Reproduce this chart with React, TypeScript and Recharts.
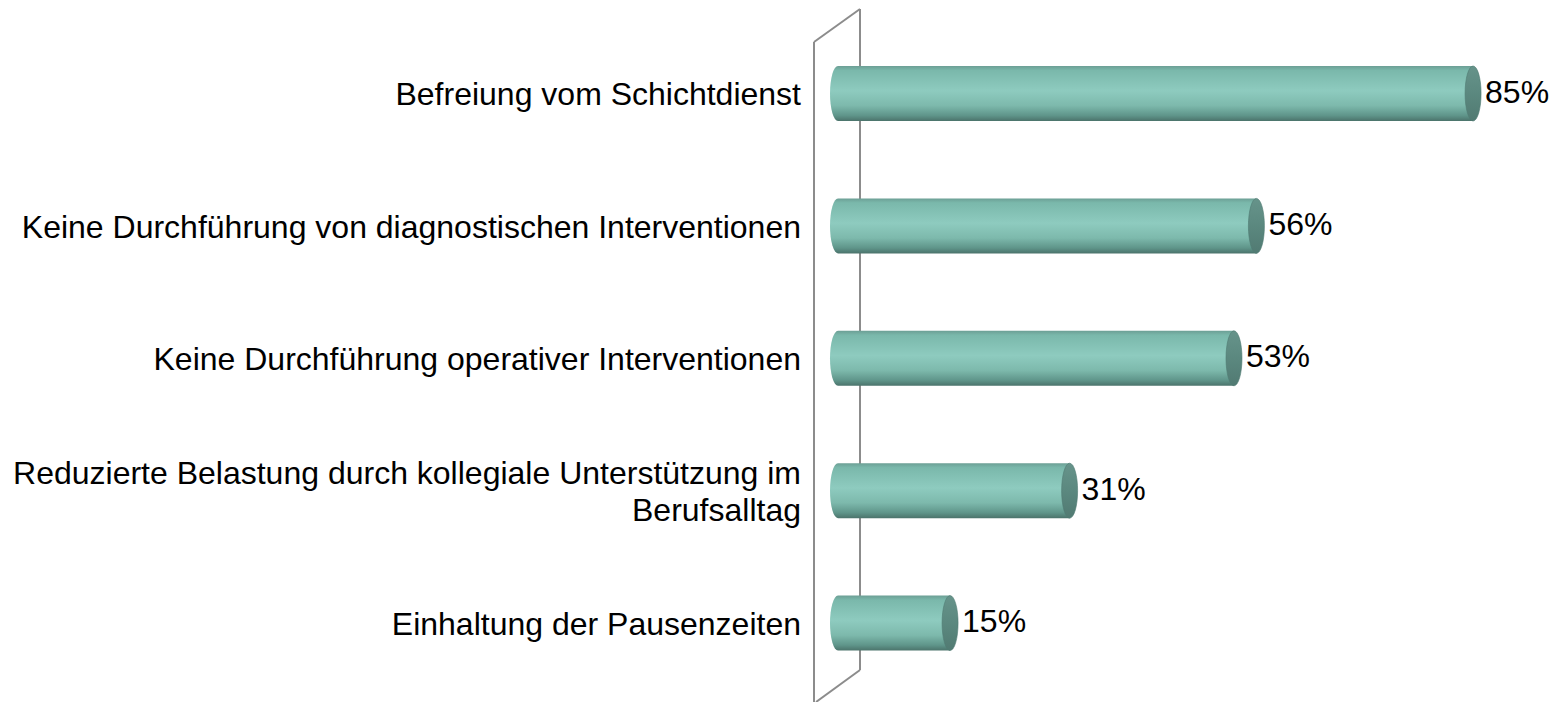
import React from "react";
import { BarChart, Bar, XAxis, YAxis, LabelList, Customized } from "recharts";

const categories = [
  "Befreiung vom Schichtdienst",
  "Keine Durchführung von diagnostischen Interventionen",
  "Keine Durchführung operativer Interventionen",
  "Reduzierte Belastung durch kollegiale Unterstützung im\nBerufsalltag",
  "Einhaltung der Pausenzeiten",
];
const values = [85, 56, 53, 31, 15];

const data = categories.map((c, i) => ({ name: c, value: values[i] }));

const FONT = "'Liberation Sans', Arial, sans-serif";
const RX = 8;

const Cylinder = (props: any) => {
  const { x, y, width, height } = props;
  if (width == null) return null;
  const h = height;
  const r = h / 2;
  const body = `M ${x} ${y} L ${x + width} ${y} L ${x + width} ${y + h} L ${x} ${y + h} A ${RX} ${r} 0 0 1 ${x} ${y} Z`;
  return (
    <g>
      <path d={body} fill="url(#cylGrad)" />
      <ellipse cx={x + width} cy={y + r} rx={RX} ry={r} fill="url(#capGrad)" stroke="#4f7a72" strokeWidth={0.6} />
    </g>
  );
};

const ValueLabel = (props: any) => {
  const { x, y, width, height, value } = props;
  return (
    <text x={x + width + RX + 4} y={y + height / 2 + 9} fontSize={32} fontFamily={FONT} fill="#000">
      {value}%
    </text>
  );
};

const CatTick = (props: any) => {
  const { y, payload } = props;
  const lines = String(payload.value).split("\n");
  const lh = 37;
  const start = y + 12 - ((lines.length - 1) * lh) / 2;
  return (
    <text textAnchor="end" fontSize={32} fontFamily={FONT} fill="#000">
      {lines.map((l, i) => (
        <tspan key={i} x={801} y={start + i * lh}>
          {l}
        </tspan>
      ))}
    </text>
  );
};

const Wall = (props: any) => {
  const left = props?.offset?.left ?? 838;
  const lx = left - 24;
  const rx = left + 22;
  const c = "#8c8c8c";
  return (
    <g stroke={c} strokeWidth={2} fill="none">
      <line x1={lx} y1={42} x2={lx} y2={702} />
      <line x1={rx} y1={9} x2={rx} y2={670} />
      <line x1={lx} y1={42} x2={rx} y2={9} />
      <line x1={rx} y1={670} x2={lx + 2} y2={702} />
    </g>
  );
};

export default function App() {
  return (
    <div style={{ position: "absolute", left: 0, top: 0, width: 1559, height: 702, background: "#fff" }}>
      <BarChart
        width={1559}
        height={702}
        data={data}
        layout="vertical"
        margin={{ top: 27, right: 0, bottom: 13, left: 0 }}
      >
        <defs>
          <linearGradient id="cylGrad" x1="0" y1="0" x2="0" y2="1">
            <stop offset="0%" stopColor="#6c9f95" />
            <stop offset="8%" stopColor="#7ab8ab" />
            <stop offset="45%" stopColor="#8ecbbf" />
            <stop offset="72%" stopColor="#7db9ac" />
            <stop offset="90%" stopColor="#5f958a" />
            <stop offset="100%" stopColor="#4b736b" />
          </linearGradient>
          <linearGradient id="capGrad" x1="0" y1="0" x2="0" y2="1">
            <stop offset="0%" stopColor="#66938a" />
            <stop offset="50%" stopColor="#5b887f" />
            <stop offset="100%" stopColor="#517a72" />
          </linearGradient>
        </defs>
        <Customized component={Wall} />
        <XAxis type="number" domain={[0, 96.5]} hide />
        <YAxis
          type="category"
          dataKey="name"
          width={838}
          axisLine={false}
          tickLine={false}
          tick={<CatTick />}
          interval={0}
        />
        <Bar dataKey="value" barSize={55} shape={<Cylinder />} isAnimationActive={false}>
          <LabelList dataKey="value" content={<ValueLabel />} />
        </Bar>
      </BarChart>
    </div>
  );
}
